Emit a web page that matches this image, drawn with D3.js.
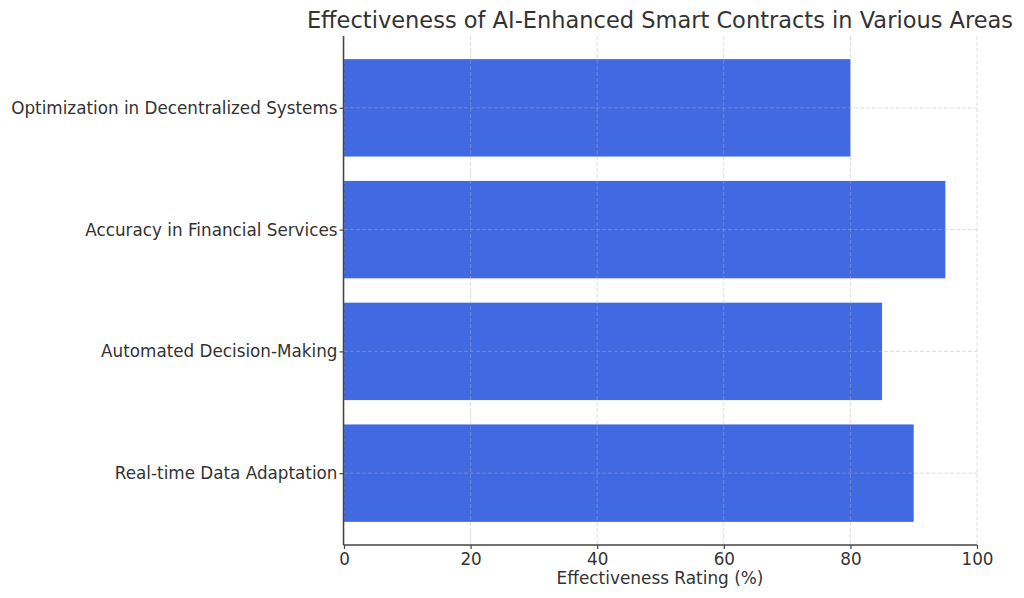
<!DOCTYPE html>
<html><head><meta charset="utf-8">
<script src="https://cdn.jsdelivr.net/npm/d3@7"></script>
<style>
body{margin:0;background:#fff;}
text{font-family:"DejaVu Sans",sans-serif;fill:#333;}
</style></head>
<body>
<svg id="c" width="1024" height="598"></svg>
<script>
const categories = ["Optimization in Decentralized Systems","Accuracy in Financial Services","Automated Decision-Making","Real-time Data Adaptation"];
const values = [80, 95, 85, 90];
const xTicks = [0, 20, 40, 60, 80, 100];
const title = "Effectiveness of AI-Enhanced Smart Contracts in Various Areas";
const xLabel = "Effectiveness Rating (%)";

const svg = d3.select("#c");
const L = 344, R = 977, T = 36, B = 545;
const x = d3.scaleLinear().domain([0, 100]).range([L, R]);
// matplotlib-like: categories at integer positions, y data range -0.59..3.59
const y = d3.scaleLinear().domain([-0.59, 3.59]).range([T, B]);
const barH = 0.8;

// bars
svg.append("g").selectAll("rect").data(values).join("rect")
  .attr("x", x(0))
  .attr("y", (d,i) => y(i - barH/2))
  .attr("width", d => x(d) - x(0))
  .attr("height", (d,i) => y(i + barH/2) - y(i - barH/2))
  .attr("fill", "#4169E1");

// grid
const g = svg.append("g").attr("stroke", "#b0b0b0").attr("stroke-opacity", 0.55)
  .attr("stroke-dasharray", "4,2").attr("stroke-width", 0.8);
g.selectAll("line.v").data(xTicks).join("line").attr("class","v")
  .attr("x1", d => x(d)).attr("x2", d => x(d)).attr("y1", T).attr("y2", B);
g.selectAll("line.h").data(categories).join("line").attr("class","h")
  .attr("x1", L).attr("x2", R).attr("y1", (d,i) => y(i)).attr("y2", (d,i) => y(i));

// axes
const xAxis = d3.axisBottom(x).tickValues(xTicks).tickSize(4).tickPadding(4);
const xg = svg.append("g").attr("transform", `translate(0,${B})`).call(xAxis);
xg.select(".domain").attr("stroke", "#444").attr("stroke-width", 1.5);
xg.selectAll(".tick line").attr("stroke", "#444").attr("stroke-width", 1.2);
xg.selectAll(".tick text").attr("font-size", 16.8).attr("font-family", "DejaVu Sans").attr("fill", "#333");

const yAxis = d3.axisLeft(d3.scaleLinear().domain(y.domain()).range(y.range()))
  .tickValues(d3.range(categories.length)).tickFormat(i => categories[i]).tickSize(4).tickPadding(2);
const yg = svg.append("g").attr("transform", `translate(${L - 0.5},0)`).call(yAxis);
yg.select(".domain").attr("stroke", "#444").attr("stroke-width", 1.5).attr("d", `M0,${T}V${B}`);
yg.selectAll(".tick line").attr("stroke", "#444").attr("stroke-width", 1.2);
yg.selectAll(".tick text").attr("font-size", 16.8).attr("font-family", "DejaVu Sans").attr("fill", "#333");
xg.select(".domain").attr("d", `M${L - 0.5},0H${R}`);

// labels
svg.append("text").attr("x", 660).attr("y", 20).attr("dy", "0.35em")
  .attr("text-anchor", "middle").attr("font-size", 22.5).text(title);
svg.append("text").attr("x", 660).attr("y", 578).attr("dy", "0.35em")
  .attr("text-anchor", "middle").attr("font-size", 16.9).text(xLabel);
</script>
</body></html>
